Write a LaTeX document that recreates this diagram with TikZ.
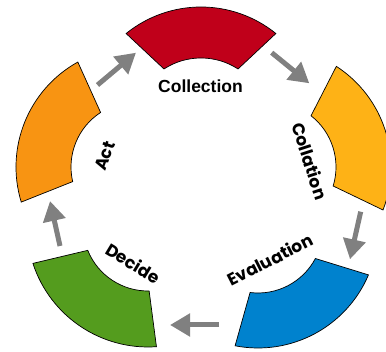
\documentclass[tikz,border=0pt]{standalone}
\usepackage{fontspec}
\newfontfamily\gothic{Poppins}
\newfontfamily\arialish{Liberation Sans}
\usetikzlibrary{arrows.meta,calc}
\definecolor{cRed}{RGB}{192,0,26}
\definecolor{cYellow}{RGB}{254,178,22}
\definecolor{cOrange}{RGB}{248,148,18}
\definecolor{cBlue}{RGB}{0,130,206}
\definecolor{cGreen}{RGB}{84,156,30}
\definecolor{cArrow}{RGB}{128,128,128}
\tikzset{
  segment/.style={draw=black, line width=0.7pt, line join=miter},
  flow/.style={draw=cArrow, line width=5pt, -{Triangle[length=20pt,width=22pt,fill=cArrow]}},
  lbl/.style={font=\gothic\bfseries\fontsize{17}{19}\selectfont, inner sep=0pt, text=black},
  toplbl/.style={font=\arialish\bfseries\fontsize{17.5}{19}\selectfont, inner sep=0pt, text=black},
}
% #1 centre, #2 outer radius, #3 inner radius, #4/#5 outer angles, #6/#7 inner angles, #8 colour
\newcommand\blockarc[8]{%
  \path[segment, fill=#8] ($(#1)+(#4:#2)$) arc[start angle=#4, end angle=#5, radius=#2]
    -- ($(#1)+(#7:#3)$) arc[start angle=#7, end angle=#6, radius=#3] -- cycle;}
\begin{document}
\begin{tikzpicture}[x=1pt,y=1pt]
\useasboundingbox (0,0) rectangle (386,352);
% segment centres
\coordinate (cRedC) at (201,226);
\coordinate (cYelC) at (271,185);
\coordinate (cBluC) at (258,124);
\coordinate (cGreC) at (148,126);
\coordinate (cOraC) at (136,185);
\blockarc{cRedC}{119}{68}{51}{129}{57}{123}{cRed}
\blockarc{cYelC}{120}{65}{-21}{57}{-17}{52}{cYellow}
\blockarc{cBluC}{120}{65}{-101}{-23}{-97}{-28}{cBlue}
\blockarc{cGreC}{121}{65}{-162}{-86}{-158}{-89}{cGreen}
\blockarc{cOraC}{120}{65}{119}{197}{123}{193}{cOrange}
% arrow ends
\coordinate (a1s) at (97.5,267);  \coordinate (a1e) at (136,299.3);
\coordinate (a2s) at (271.7,299.3); \coordinate (a2e) at (309.3,268.7);
\coordinate (a3s) at (360.7,140.3); \coordinate (a3e) at (350,92.7);
\coordinate (a4s) at (219,27);    \coordinate (a4e) at (170,27);
\coordinate (a5s) at (60,106);    \coordinate (a5e) at (50,151);
\draw[flow] (a1s) -- (a1e);
\draw[flow] (a2s) -- (a2e);
\draw[flow] (a3s) -- (a3e);
\draw[flow] (a4s) -- (a4e);
\draw[flow] (a5s) -- (a5e);
% labels
\node[toplbl] (lCollection) at (200.5,265.5) {Collection};
\node[lbl, rotate=-72] (lCollation) at (310,191) {Collation};
\node[lbl, rotate=27] (lEvaluation) at (270,92.5) {Evaluation};
\node[lbl, rotate=-31] (lDecide) at (133.3,88.7) {Decide};
\node[lbl, rotate=70] (lAct) at (105,196) {Act};
\end{tikzpicture}
\end{document}
